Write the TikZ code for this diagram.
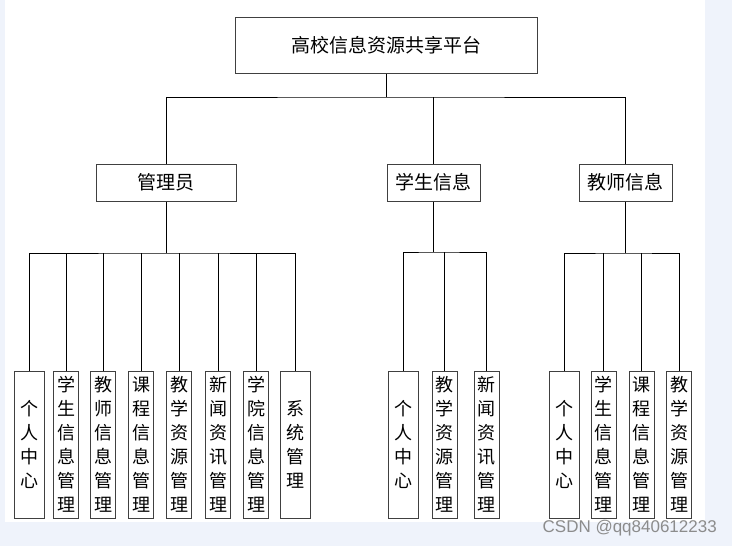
\documentclass[tikz,border=0pt]{standalone}
\usepackage{fontspec}
\newfontfamily\cjk{Noto Sans CJK SC}
\newfontfamily\markfont{Liberation Sans}
\usetikzlibrary{positioning}
\definecolor{pagebg}{RGB}{239,243,251}
\tikzset{x=1pt, y=-1pt, % one unit is one pixel of the page
every node/.style={font=\cjk},
topbox/.style={ % the platform box on top
draw=black!75, line width=1pt,
minimum width=302pt, minimum height=56pt,
font=\cjk\fontsize{19}{19}\selectfont},
rolebox/.style={ % second row
draw=black!75, line width=1pt,
minimum height=37pt, inner sep=0pt,
font=\cjk\fontsize{19}{19}\selectfont},
leafbox/.style={ % the tall boxes with vertical text
draw=black!75, line width=1pt,
minimum width=25pt, minimum height=147pt, inner sep=0pt,
align=center, font=\cjk\fontsize{18}{24}\selectfont},
wideleaf/.style={leafbox, minimum width=30pt},
link/.style={draw, line width=0.9pt}}

\begin{document}
\begin{tikzpicture}

    % page
    \fill[pagebg] (0,0) rectangle (732,546);
    \fill[white] (5,0) rectangle (705,522);
    \useasboundingbox (0,0) rectangle (732,546);

    \node[topbox] (top) at (386,45) {高校信息资源共享平台};

    \node[rolebox, minimum width=140pt] (admin) at (166,182.5) {管理员};
    \node[rolebox, minimum width=93pt] (stu) at (433.5,182.5) {学生信息};
    \node[rolebox, minimum width=93pt] (tea) at (625.5,182.5) {教师信息};

    % admin leaves
    \node[wideleaf] (a1) at (29,444.5) {个\\人\\中\\心};
    \node[leafbox] (a2) at (66,444.5) {学\\生\\信\\息\\管\\理};
    \node[leafbox] (a3) at (103,444.5) {教\\师\\信\\息\\管\\理};
    \node[leafbox] (a4) at (141,444.5) {课\\程\\信\\息\\管\\理};
    \node[leafbox] (a5) at (179,444.5) {教\\学\\资\\源\\管\\理};
    \node[leafbox] (a6) at (218,444.5) {新\\闻\\资\\讯\\管\\理};
    \node[leafbox] (a7) at (256,444.5) {学\\院\\信\\息\\管\\理};
    \node[wideleaf] (a8) at (295,444.5) {系\\统\\管\\理};

    % student leaves
    \node[wideleaf] (s1) at (403,444.5) {个\\人\\中\\心};
    \node[leafbox] (s2) at (444.5,444.5) {教\\学\\资\\源\\管\\理};
    \node[leafbox] (s3) at (486.5,444.5) {新\\闻\\资\\讯\\管\\理};

    % teacher leaves
    \node[wideleaf] (t1) at (564,444.5) {个\\人\\中\\心};
    \node[leafbox] (t2) at (603.5,444.5) {学\\生\\信\\息\\管\\理};
    \node[leafbox] (t3) at (641.5,444.5) {课\\程\\信\\息\\管\\理};
    \node[leafbox] (t4) at (679,444.5) {教\\学\\资\\源\\管\\理};

    \coordinate (bus0) at (386,97);
    \coordinate (busA) at (166,253);
    \coordinate (busS) at (433.5,252);
    \coordinate (busT) at (625.5,253);

    \draw[link] (top.south) -- (bus0);
    \draw[link] (admin.north) |- (bus0) -| (tea.north);
    \draw[link] (stu.north) -- (stu.north |- bus0);

    \draw[link] (admin.south) -- (busA);
    \draw[link] (a1.north) |- (busA) -| (a8.north);
    \foreach \n in {a2,a3,a4,a5,a6,a7}
        \draw[link] (\n.north) -- (\n.north |- busA);

    \draw[link] (stu.south) -- (busS);
    \draw[link] (s1.north) |- (busS) -| (s3.north);
    \draw[link] (s2.north) -- (s2.north |- busS);

    \draw[link] (tea.south) -- (busT);
    \draw[link] (t1.north) |- (busT) -| (t4.north);
    \foreach \n in {t2,t3}
        \draw[link] (\n.north) -- (\n.north |- busT);

    \node[font=\markfont\fontsize{17}{17}\selectfont, text=black!45, anchor=east, inner sep=0pt] (mark) at (717,528) {CSDN @qq840612233};

\end{tikzpicture}
\end{document}
